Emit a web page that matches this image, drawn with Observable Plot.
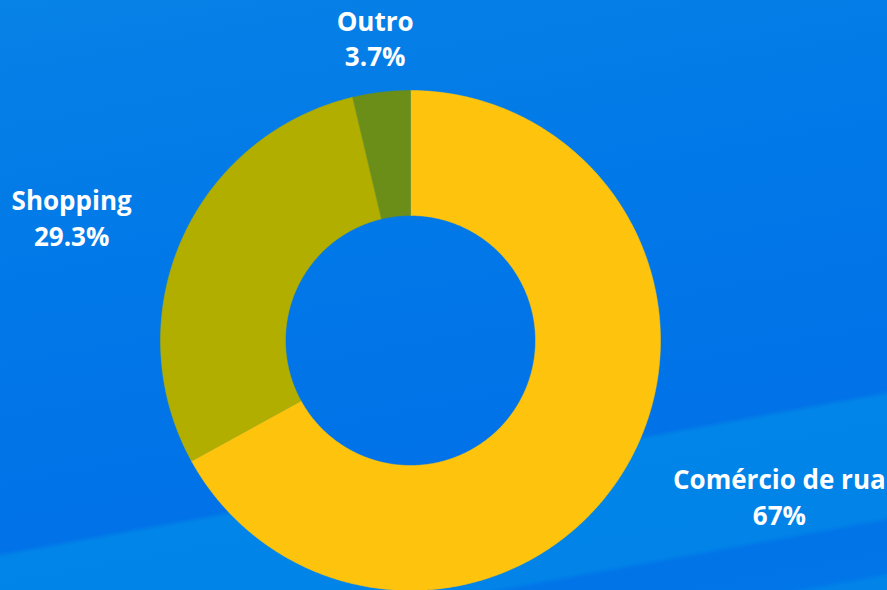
<!DOCTYPE html>
<html>
<head>
<meta charset="utf-8">
<script src="https://cdn.jsdelivr.net/npm/d3@7"></script>
<script src="https://cdn.jsdelivr.net/npm/@observablehq/plot@0.6"></script>
<style>
  html, body { margin: 0; padding: 0; }
  body {
    width: 887px; height: 590px; overflow: hidden;
    background: linear-gradient(169.65deg,
      #0782E6 0%, #0178E8 40%, #0172E8 73.4%, #0185E8 74.2%,
      #0183E8 90.2%, #0174E8 91%, #0176E8 97.6%, #0183E8 98.3%, #0183E8 100%);
    font-family: "Open Sans", "Noto Sans", sans-serif;
  }
  #chart svg { display: block; background: transparent; }
</style>
</head>
<body>
<div id="chart"></div>
<script>
// ---- data ----
const categories = ["Comércio de rua", "Shopping", "Outro"];
const values = [67, 29.3, 3.7];
const valueLabels = ["67%", "29.3%", "3.7%"];
const colors = ["#FEC40D", "#B1AE00", "#6B8E18"];

// ---- geometry (unit circle, outer radius 1, inner 0.5) ----
const INNER = 0.5, LABEL_R = 1.22;
const pie = d3.pie().sort(null).value(d => d.value);
const arcs = pie(categories.map((name, i) => ({name, value: values[i], label: valueLabels[i]})));

const poly = [];
for (const a of arcs) {
  const n = Math.max(4, Math.ceil((a.endAngle - a.startAngle) / 0.01));
  for (let k = 0; k <= n; k++) {
    const t = a.startAngle + (a.endAngle - a.startAngle) * k / n;
    poly.push({name: a.data.name, x: Math.sin(t), y: Math.cos(t)});
  }
  for (let k = n; k >= 0; k--) {
    const t = a.startAngle + (a.endAngle - a.startAngle) * k / n;
    poly.push({name: a.data.name, x: INNER * Math.sin(t), y: INNER * Math.cos(t)});
  }
}

const FONT_SIZE = 26;
const ctx = document.createElement("canvas").getContext("2d");
ctx.font = `bold ${FONT_SIZE}px "Open Sans"`;
const labels = arcs.map(a => {
  const m = (a.startAngle + a.endAngle) / 2;
  const s = Math.sin(m);
  const w = Math.max(ctx.measureText(a.data.name).width, ctx.measureText(a.data.label).width);
  const side = Math.abs(s) < 0.3 ? 0 : Math.sign(s);
  return {
    text: a.data.name + "\n" + a.data.label,
    x: LABEL_R * s,
    y: LABEL_R * Math.cos(m),
    dx: side * w / 2
  };
});

const chart = Plot.plot({
  width: 887,
  height: 590,
  margin: 0,
  style: {background: "transparent", overflow: "visible"},
  x: {domain: [-1, 1], range: [160, 660], axis: null},
  y: {domain: [-1, 1], range: [590, 90], axis: null},
  color: {domain: categories, range: colors},
  marks: [
    Plot.line(poly, {x: "x", y: "y", z: "name", fill: "name", stroke: "name", strokeWidth: 0.5, curve: "linear-closed"}),
    ...labels.map(l => Plot.text([l], {
      x: "x", y: "y", text: "text", dx: l.dx,
      textAnchor: "middle", lineAnchor: "middle", lineHeight: 1.35,
      fill: "white", fontSize: FONT_SIZE, fontWeight: "bold",
      fontFamily: "'Open Sans', 'Noto Sans', sans-serif"
    }))
  ]
});
document.getElementById("chart").appendChild(chart);
</script>
</body>
</html>
